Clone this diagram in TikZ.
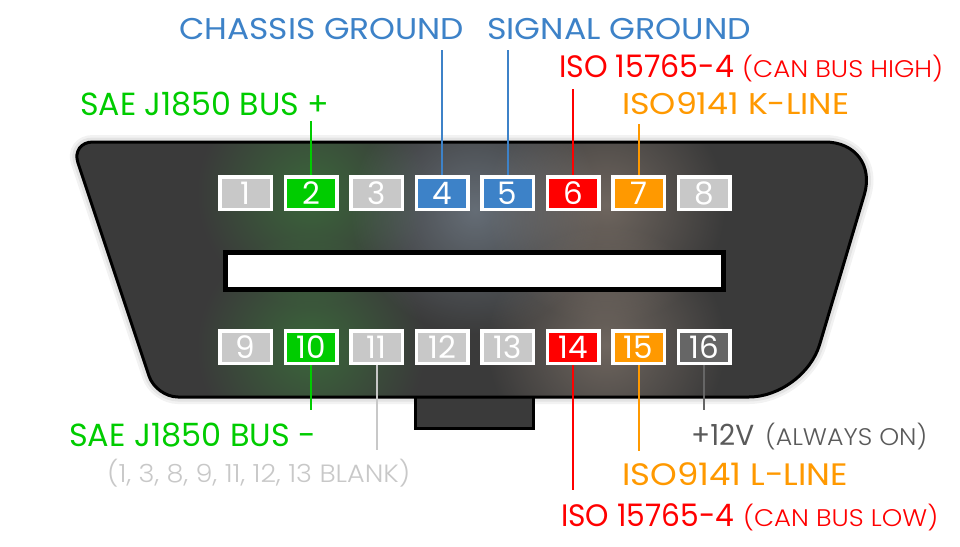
\documentclass[tikz,border=0pt]{standalone}
\usepackage{graphicx}
\usepackage{fontspec}
\setmainfont{Poppins}
\newfontfamily\lightfont{Poppins Light}
\usetikzlibrary{fadings}
\definecolor{cgreen}{HTML}{00CC00}
\definecolor{cblue}{HTML}{3D82C8}
\definecolor{cred}{HTML}{FF0000}
\definecolor{corange}{HTML}{FF9900}
\definecolor{clgray}{HTML}{C8C8C8}
\definecolor{cdgray}{HTML}{666666}
\definecolor{ctxtgray}{HTML}{5A5A5A}
\definecolor{bodyfill}{HTML}{3A3A3A}
\definecolor{glowgreen}{HTML}{3C9C3C}
\definecolor{glowblue}{HTML}{9AACC0}
\definecolor{glowwarm}{HTML}{B09C8C}
\tikzfading[name=glowfade, inner color=transparent!55, outer color=transparent!100]
\newcommand{\fitw}[2]{\resizebox{#1pt}{\height}{#2}}
\newcommand{\fs}[1]{\fontsize{#1}{#1}\selectfont}
\begin{document}
\begin{tikzpicture}[x=1pt,y=-1pt,
  pinbox/.style={draw=white, line width=3.5pt, minimum width=51.5pt, minimum height=32.5pt,
    inner sep=0pt, text=white, font=\fs{31}},
  lbl/.style={anchor=base west, inner sep=0pt},
  wire/.style={line width=2pt},
  glow/.style={path fading=glowfade}]
\useasboundingbox (0,0) rectangle (960,546);
\fill[white] (0,0) rectangle (960,546);
% body shape
\path[save path=\bodypath] (475,142) [rounded corners=55pt] -- (880,142) -- (804,397)
  [rounded corners=22pt] -- (156,397) -- (71,142) [rounded corners=55pt] -- cycle;
% soft shadow
\draw[black, opacity=0.05, line width=14pt, use path=\bodypath];
\draw[black, opacity=0.06, line width=9pt, use path=\bodypath];
% tab
\draw[fill=bodyfill, draw=black, line width=3pt] (415,390) rectangle (533,428);
% body
\fill[bodyfill, use path=\bodypath];
\begin{scope}
\clip[use path=\bodypath];
\fill[glowgreen, glow] (311,193) circle (115);
\fill[glowgreen, glow] (311,347) circle (115);
\fill[glowblue, glow] (475,210) circle (125);
\fill[glowwarm, glow] (606,205) circle (120);
\fill[glowwarm, glow] (606,345) circle (120);
\end{scope}
\draw[black, line width=3pt, use path=\bodypath];
% slot
\draw[fill=white, draw=black, line width=5pt] (225.5,252.5) rectangle (723.5,289.5);
% pin anchor points and free ends of the connectors
\coordinate (c2) at (311,193);     \coordinate (e2) at (311,121);
\coordinate (c4) at (442,193);     \coordinate (e4) at (442,50);
\coordinate (c5) at (507.5,193);   \coordinate (e5) at (507.5,50);
\coordinate (c6) at (573,193);     \coordinate (e6) at (573,89);
\coordinate (c7) at (638.5,193);   \coordinate (e7) at (638.5,124);
\coordinate (c10) at (311,347);    \coordinate (e10) at (311,410);
\coordinate (c11) at (376.5,347);  \coordinate (e11) at (376.5,450);
\coordinate (c14) at (573,347);    \coordinate (e14) at (573,490);
\coordinate (c15) at (638.5,347);  \coordinate (e15) at (638.5,451);
\coordinate (c16) at (704,347);    \coordinate (e16) at (704,410);
% connectors (behind the pin frames)
\draw[wire, cgreen]  (c2) -- (e2);
\draw[wire, cblue]   (c4) -- (e4);
\draw[wire, cblue]   (c5) -- (e5);
\draw[wire, cred]    (c6) -- (e6);
\draw[wire, corange] (c7) -- (e7);
\draw[wire, cgreen]  (c10) -- (e10);
\draw[wire, clgray]  (c11) -- (e11);
\draw[wire, cred]    (c14) -- (e14);
\draw[wire, corange] (c15) -- (e15);
\draw[wire, cdgray]  (c16) -- (e16);
% pins
\node[pinbox, fill=clgray]  (p1) at (245.5,193) {1};
\node[pinbox, fill=cgreen]  (p2) at (c2) {2};
\node[pinbox, fill=clgray]  (p3) at (376.5,193) {3};
\node[pinbox, fill=cblue]   (p4) at (c4) {4};
\node[pinbox, fill=cblue]   (p5) at (c5) {5};
\node[pinbox, fill=cred]    (p6) at (c6) {6};
\node[pinbox, fill=corange] (p7) at (c7) {7};
\node[pinbox, fill=clgray]  (p8) at (704,193) {8};
\node[pinbox, fill=clgray]  (p9) at (245.5,347) {9};
\node[pinbox, fill=cgreen]  (p10) at (c10) {10};
\node[pinbox, fill=clgray]  (p11) at (c11) {11};
\node[pinbox, fill=clgray]  (p12) at (442,347) {12};
\node[pinbox, fill=clgray]  (p13) at (507.5,347) {13};
\node[pinbox, fill=cred]    (p14) at (c14) {14};
\node[pinbox, fill=corange] (p15) at (c15) {15};
\node[pinbox, fill=cdgray]  (p16) at (c16) {16};
% labels
\node[lbl, cgreen]  (l2) at (80,115) {\fs{32}\fitw{249}{SAE J1850 BUS +}};
\node[lbl, cblue]   (l4) at (179,39) {\fs{30}\fitw{285}{CHASSIS GROUND}};
\node[lbl, cblue]   (l5) at (487,39) {\fs{30}\fitw{264}{SIGNAL GROUND}};
\node[lbl, cred]    (l6) at (559,77) {\fs{31}\fitw{175}{ISO 15765-4}\hspace{8pt}{\lightfont\fs{24}\fitw{201}{(CAN BUS HIGH)}}};
\node[lbl, corange] (l7) at (622,114) {\fs{30}\fitw{227}{ISO9141 K-LINE}};
\node[lbl, cgreen]  (l10) at (69,446) {\fs{32}\fitw{247}{SAE J1850 BUS -}};
\node[lbl, clgray]  (l11) at (107,482) {\lightfont\fs{25}\fitw{303}{(1, 3, 8, 9, 11, 12, 13 BLANK)}};
\node[lbl, ctxtgray] (l16) at (691,445) {\fs{29}\fitw{63}{+12V}\hspace{11pt}{\lightfont\fs{24}\fitw{162}{(ALWAYS ON)}}};
\node[lbl, corange] (l15) at (622,485) {\fs{31}\fitw{226}{ISO9141 L-LINE}};
\node[lbl, cred]    (l14) at (561,526) {\fs{31}\fitw{173}{ISO 15765-4}\hspace{9pt}{\lightfont\fs{24}\fitw{195}{(CAN BUS LOW)}}};
\end{tikzpicture}
\end{document}
